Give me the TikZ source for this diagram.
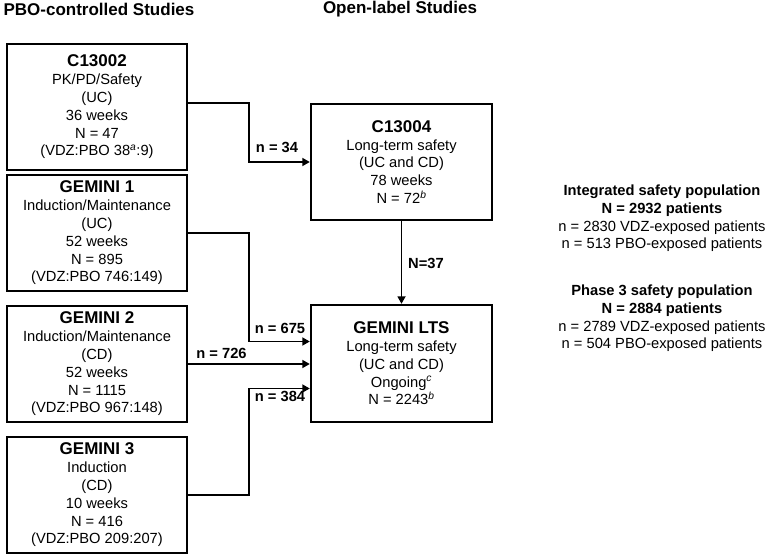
\documentclass[tikz,border=0pt]{standalone}
\usepackage{fontspec}
\setmainfont{Liberation Sans}
\usetikzlibrary{arrows.meta}

\tikzset{
  study/.style={draw, line width=2.4pt, minimum width=180pt, align=center, inner sep=0pt,
    font=\fontsize{14.7}{17.8}\selectfont},
  link/.style={line width=1.7pt, -{Triangle[length=7.5pt,width=8pt]}},
  count/.style={font=\fontsize{14.7}{17.8}\selectfont\bfseries, inner sep=0pt},
  head/.style={font=\fontsize{17}{20}\selectfont\bfseries, inner sep=0pt},
  popn/.style={align=center, inner sep=0pt, font=\fontsize{14.7}{17.6}\selectfont},
}
\newcommand{\studyname}[1]{{\fontsize{17}{19}\selectfont\bfseries #1}}
\newcommand{\fn}[1]{\textsuperscript{\itshape #1}}

\begin{document}
\begin{tikzpicture}[x=1pt,y=-1pt]
\useasboundingbox (0,0) rectangle (771,556);

% column headings
\node[head] (hpbo) at (99,9) {PBO-controlled Studies};
\node[head] (hopen) at (400,9) {Open-label Studies};

% placebo-controlled studies
\node[study, minimum height=126pt] (c13002) at (97,107)
  {\studyname{C13002}\\PK/PD/Safety\\(UC)\\36 weeks\\N = 47\\(VDZ:PBO 38\fn{a}:9)};
\node[study, minimum height=116pt] (gem1) at (97,233)
  {\studyname{GEMINI 1}\\Induction/Maintenance\\(UC)\\52 weeks\\N = 895\\(VDZ:PBO 746:149)};
\node[study, minimum height=116pt] (gem2) at (97,364)
  {\studyname{GEMINI 2}\\Induction/Maintenance\\(CD)\\52 weeks\\N = 1115\\(VDZ:PBO 967:148)};
\node[study, minimum height=116pt] (gem3) at (97,495)
  {\studyname{GEMINI 3}\\Induction\\(CD)\\10 weeks\\N = 416\\(VDZ:PBO 209:207)};

% open-label studies
\node[study, minimum width=181pt, minimum height=116pt] (c13004) at (401.5,162)
  {\studyname{C13004}\\Long-term safety\\(UC and CD)\\78 weeks\\N = 72\fn{b}};
\node[study, minimum width=181pt, minimum height=117pt] (lts) at (401.5,363.5)
  {\studyname{GEMINI LTS}\\Long-term safety\\(UC and CD)\\Ongoing\fn{c}\\N = 2243\fn{b}};

% rollover
\coordinate (jx) at (249,0);
\draw[link] ([yshift=4pt]c13002.east) -- ([yshift=4pt]c13002.east -| jx) |- (c13004.west);
\draw[link] (gem1.east) -- (gem1.east -| jx) |- ([yshift=22pt]lts.west);
\draw[link] (gem2.east) -- (gem2.east -| lts.west);
\draw[link] (gem3.east) -- (gem3.east -| jx) |- ([yshift=-25pt]lts.west);
\draw[link] (c13004.south) -- (lts.north);

\node[count] (n34) at (277,147) {n = 34};
\node[count] (n675) at (280,328) {n = 675};
\node[count] (n726) at (221.5,353) {n = 726};
\node[count] (n384) at (280,396) {n = 384};
\node[count] (n37) at (426,263) {N=37};

% safety populations
\node[popn] (integ) at (662,218.5)
  {\textbf{Integrated safety population}\\\textbf{N = 2932 patients}\\n = 2830 VDZ-exposed patients\\n = 513 PBO-exposed patients};
\node[popn] (phase3) at (662,318.5)
  {\textbf{Phase 3 safety population}\\\textbf{N = 2884 patients}\\n = 2789 VDZ-exposed patients\\n = 504 PBO-exposed patients};
\end{tikzpicture}
\end{document}
